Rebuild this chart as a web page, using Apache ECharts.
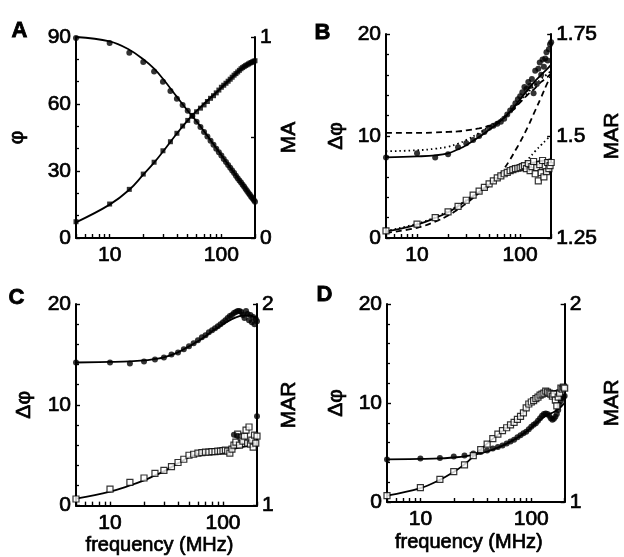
<!DOCTYPE html>
<html>
<head>
<meta charset="utf-8">
<script src="https://cdn.jsdelivr.net/npm/echarts@6/dist/echarts.min.js"></script>
<style>html,body{margin:0;padding:0;background:#fff}#c{width:624px;height:557px}</style>
</head>
<body>
<div id="c"></div>
<script>
// ---------- data ----------
const freqPts = [5,10,15,20,25,30,35,40,45,50,55,60,65,70,75,80,85,90,95,100,105,110,115,120,125,130,135,140,145,150,155,160,165,170,175,180,185,190,195,200];
const fitFreq = [5,10,15,20,25,30,40,50,60,70,80,90,100,120,140,160,180,200];
const xTickVals = [5,6,7,8,9,10,20,30,40,50,60,70,80,90,100,200];
const xLabelVals = [10,100];

// Panel A
const phiA = [89.5,87.3,83,78.8,74.5,70,65.8,62.3,59.5,57,54.6,52.1,49.7,47.5,45.4,43.5,41.7,40.0,38.4,36.9,35.4,34.0,32.7,31.4,30.2,29.1,27.9,26.8,25.8,24.8,23.8,22.9,21.9,21.0,20.2,19.4,18.5,17.8,17.0,16.2];
const maA = [0.081,0.169,0.242,0.318,0.377,0.434,0.479,0.521,0.557,0.585,0.61,0.628,0.646,0.662,0.679,0.695,0.708,0.722,0.736,0.75,0.76,0.77,0.78,0.79,0.80,0.81,0.818,0.826,0.834,0.842,0.848,0.853,0.858,0.862,0.866,0.87,0.873,0.876,0.879,0.882];
const phiFitA = [90,88,84.3,80,75.8,71.3,63.2,57,52.2,47.8,43.8,40.3,37.1,31.6,27.1,23.1,19.6,16.4];
const maFitA = [0.078,0.166,0.24,0.315,0.375,0.43,0.52,0.585,0.632,0.668,0.698,0.724,0.748,0.79,0.826,0.852,0.87,0.885];

// Panel B
const dphiB = [7.9,8.3,7.9,8.2,8.9,9.3,9.6,10.0,10.4,10.8,11.0,11.2,11.4,11.7,12.1,12.5,12.8,13.2,13.6,13.9,14.3,14.8,14.6,15.3,14.9,15.6,14.2,16.4,15.1,16.6,17.2,16.0,17.5,16.8,17.6,18.2,17.4,18.5,19.0,19.2];
const marB = [1.2675,1.284,1.30,1.314,1.3275,1.3425,1.355,1.365,1.374,1.3825,1.39,1.3975,1.4025,1.4075,1.411,1.415,1.4175,1.42,1.421,1.4225,1.425,1.4275,1.42,1.4325,1.415,1.425,1.4375,1.4075,1.4225,1.39,1.43,1.41,1.44,1.40,1.425,1.4125,1.435,1.42,1.4275,1.435];
const dphiSolidB = [7.9,8.0,8.1,8.3,8.7,9.1,9.9,10.6,11.2,11.8,12.4,13.0,13.6,14.6,15.4,16.0,16.5,17.0];
const dphiDotB = [8.5,8.6,8.75,8.95,9.25,9.6,10.3,10.9,11.4,11.9,12.4,12.9,13.4,14.3,15.0,15.6,16.0,16.4];
const dphiDashB = [10.3,10.3,10.35,10.4,10.45,10.55,10.75,11.0,11.35,11.8,12.3,12.8,13.3,14.1,14.7,15.3,15.7,16.1];
const marSolidB = [1.266,1.283,1.299,1.313,1.328,1.341,1.363,1.381,1.396,1.406,1.414,1.42,1.425,1.432,1.436,1.439,1.441,1.443];
const marDotB = [1.267,1.285,1.301,1.316,1.33,1.343,1.364,1.382,1.397,1.407,1.415,1.421,1.427,1.444,1.463,1.478,1.491,1.502];
const marDashB = [1.2625,1.275,1.29,1.305,1.32,1.335,1.36,1.3775,1.3975,1.42,1.4425,1.465,1.485,1.525,1.5625,1.595,1.625,1.65];

// Panel C
const dphiC = [14.2,14.2,14.1,14.3,14.5,14.7,15.0,15.2,15.5,15.8,16.1,16.4,16.7,16.9,17.2,17.4,17.6,17.8,18.0,18.2,18.4,18.6,18.8,18.9,19.1,19.2,19.3,19.3,19.2,18.9,18.6,19.3,19.0,18.4,18.9,18.2,18.7,18.0,18.5,18.3];
const marC = [1.033,1.082,1.115,1.137,1.16,1.175,1.194,1.214,1.23,1.25,1.255,1.26,1.2625,1.265,1.265,1.2675,1.2675,1.27,1.27,1.2725,1.275,1.27,1.26,1.28,1.30,1.315,1.355,1.30,1.34,1.32,1.345,1.375,1.31,1.39,1.305,1.325,1.29,1.35,1.31,1.345];
const marDotsCFreq = [125,135,200];
const marDotsC = [1.352,1.345,1.443];
const dphiFitC = [14.2,14.25,14.3,14.4,14.55,14.7,15.2,15.8,16.3,16.8,17.3,17.65,18.0,18.5,18.8,18.9,18.8,18.6];
const marFitC = [1.035,1.07,1.10,1.125,1.15,1.17,1.21,1.24,1.255,1.26,1.265,1.268,1.272,1.28,1.288,1.294,1.298,1.30];

// Panel D
const dphiD = [4.3,4.4,4.45,4.6,4.7,4.9,5.05,5.2,5.4,5.55,5.7,5.9,6.1,6.3,6.55,6.75,6.95,7.1,7.35,7.6,7.8,7.95,8.2,8.45,8.7,8.9,8.95,8.9,8.7,8.45,8.3,8.4,8.6,8.9,9.3,9.8,10.2,10.5,10.6,10.7];
const marD = [1.032,1.0725,1.1145,1.153,1.187,1.234,1.265,1.2925,1.32,1.3425,1.36,1.375,1.39,1.4025,1.4175,1.4325,1.45,1.475,1.495,1.505,1.5125,1.5225,1.53,1.54,1.545,1.55,1.56,1.555,1.55,1.545,1.535,1.545,1.515,1.485,1.53,1.55,1.575,1.57,1.58,1.575];
const dphiFitD = [4.3,4.35,4.4,4.5,4.6,4.75,5.1,5.5,5.9,6.3,6.7,7.1,7.5,8.3,8.8,9.1,9.5,10.0];
const marFitD = [1.032,1.07,1.112,1.152,1.19,1.23,1.295,1.34,1.375,1.405,1.435,1.47,1.5,1.54,1.555,1.56,1.565,1.57];

// ---------- chart ----------
const FONT = 'Liberation Sans, Arial, Helvetica, sans-serif';
const zip = (xs, ys) => xs.map((x, i) => [x, ys[i]]);
const TXT = {fontFamily: FONT, color: '#000', textBorderColor: '#000', textBorderWidth: 0.7};

const grids = [
  {left: 76, top: 37, width: 179, height: 201},
  {left: 386, top: 34, width: 180, height: 204},
  {left: 76, top: 304, width: 181, height: 202},
  {left: 387, top: 304, width: 182, height: 198}
];

function xAx(i, withName) {
  return {
    type: 'log', logBase: 10, min: 5, max: 200, gridIndex: i,
    name: withName ? 'frequency (MHz)' : '',
    nameLocation: 'middle', nameGap: 30,
    nameTextStyle: Object.assign({fontSize: 20, padding: [0, 14, 0, 0]}, TXT),
    axisLine: {show: true, lineStyle: {color: '#000', width: 2}},
    axisTick: {show: true, inside: true, length: 4, customValues: xTickVals, lineStyle: {color: '#000', width: 1.4}},
    minorTick: {show: false},
    axisLabel: Object.assign({show: true, customValues: xLabelVals, margin: 7, fontSize: 21}, TXT),
    splitLine: {show: false}
  };
}
function yAx(i, pos, min, max, interval, minorSplit, name, nameGap, fmt) {
  return {
    type: 'value', gridIndex: i, position: pos, min: min, max: max, interval: interval,
    name: name, nameLocation: 'middle', nameGap: nameGap, nameRotate: 90,
    nameTextStyle: Object.assign({fontSize: 21}, TXT),
    axisLine: {show: true, lineStyle: {color: '#000', width: 2}},
    axisTick: {show: true, inside: true, length: 4, lineStyle: {color: '#000', width: 1.4}},
    minorTick: {show: minorSplit > 0, splitNumber: minorSplit || 1, length: 3, lineStyle: {color: '#000', width: 1.3}},
    axisLabel: Object.assign({show: true, margin: 5, fontSize: 21, formatter: fmt}, TXT),
    splitLine: {show: false}, minorSplitLine: {show: false}
  };
}

const xAxes = [xAx(0, false), xAx(1, false), xAx(2, true), xAx(3, true)];
const yAxes = [
  yAx(0, 'left', 0, 90, 30, 3, 'φ', 48),
  yAx(0, 'right', 0, 1, 0.5, 0, 'MA', 24, v => (v === 0.5 ? '' : String(v))),
  yAx(1, 'left', 0, 20, 10, 5, 'Δφ', 39),
  yAx(1, 'right', 1.25, 1.75, 0.25, 0, 'MAR', 42),
  yAx(2, 'left', 0, 20, 10, 5, 'Δφ', 41),
  yAx(2, 'right', 1, 2, 1, 0, 'MAR', 20),
  yAx(3, 'left', 0, 20, 10, 5, 'Δφ', 40),
  yAx(3, 'right', 1, 2, 1, 0, 'MAR', 37)
];

function line(xi, yi, xs, ys, type) {
  return {
    type: 'line', xAxisIndex: xi, yAxisIndex: yi, data: zip(xs, ys), smooth: 0.4,
    symbol: 'none', z: 3,
    lineStyle: {color: '#000', width: 1.8, type: type || 'solid'}
  };
}
function dots(xi, yi, xs, ys, size) {
  return {
    type: 'scatter', xAxisIndex: xi, yAxisIndex: yi, data: zip(xs, ys),
    symbol: 'circle', symbolSize: size || 6, z: 4,
    itemStyle: {color: '#000'}
  };
}
function squares(xi, yi, xs, ys, filled) {
  return {
    type: 'scatter', xAxisIndex: xi, yAxisIndex: yi, data: zip(xs, ys),
    symbol: 'rect', symbolSize: filled ? 5 : 6, z: 4,
    itemStyle: filled ? {color: '#000'} : {color: '#fff', borderColor: '#000', borderWidth: 1.2}
  };
}

const series = [
  // A
  line(0, 0, fitFreq, phiFitA),
  line(0, 1, fitFreq, maFitA),
  dots(0, 0, freqPts, phiA, 6),
  squares(0, 1, freqPts, maA, true),
  // B
  line(1, 2, fitFreq, dphiSolidB),
  line(1, 2, fitFreq, dphiDotB, [1.5, 3]),
  line(1, 2, fitFreq, dphiDashB, [6, 4]),
  line(1, 3, fitFreq, marSolidB),
  line(1, 3, fitFreq, marDotB, [1.5, 3]),
  line(1, 3, fitFreq, marDashB, [6, 4]),
  dots(1, 2, freqPts, dphiB, 6),
  squares(1, 3, freqPts, marB, false),
  // C
  line(2, 4, fitFreq, dphiFitC),
  line(2, 5, fitFreq, marFitC),
  dots(2, 4, freqPts, dphiC, 6),
  squares(2, 5, freqPts, marC, false),
  dots(2, 5, marDotsCFreq, marDotsC, 6),
  // D
  line(3, 6, fitFreq, dphiFitD),
  line(3, 7, fitFreq, marFitD),
  dots(3, 6, freqPts, dphiD, 6),
  squares(3, 7, freqPts, marD, false)
];

const letterStyle = {fontFamily: FONT, fontSize: 22, fontWeight: 'bold', fill: '#000', stroke: '#000', lineWidth: 0.8};
const graphic = [
  {type: 'text', left: 11, top: 20, style: Object.assign({text: 'A'}, letterStyle)},
  {type: 'text', left: 314, top: 22, style: Object.assign({text: 'B'}, letterStyle)},
  {type: 'text', left: 8, top: 287, style: Object.assign({text: 'C'}, letterStyle)},
  {type: 'text', left: 316, top: 284, style: Object.assign({text: 'D'}, letterStyle)}
];

const chart = echarts.init(document.getElementById('c'), null, {renderer: 'canvas'});
chart.setOption({
  animation: false,
  backgroundColor: '#fff',
  grid: grids,
  xAxis: xAxes,
  yAxis: yAxes,
  series: series,
  graphic: graphic
});
</script>
</body>
</html>
